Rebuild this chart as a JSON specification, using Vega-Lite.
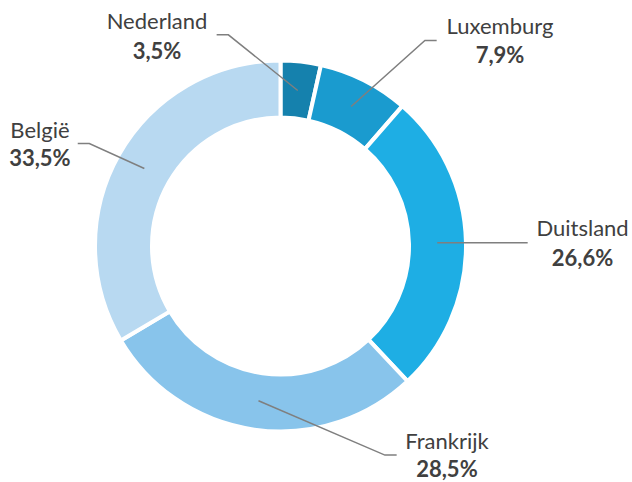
{
  "$schema": "https://vega.github.io/schema/vega-lite/v6.json",
  "width": 632,
  "height": 482,
  "padding": 0,
  "autosize": {"type": "fit", "contains": "padding"},
  "background": "white",
  "config": {"view": {"stroke": null}, "font": "Lato"},
  "datasets": {
    "shares": [
      {"country": "Nederland", "share": 3.5, "order": 1},
      {"country": "Luxemburg", "share": 7.9, "order": 2},
      {"country": "Duitsland", "share": 26.6, "order": 3},
      {"country": "Frankrijk", "share": 28.5, "order": 4},
      {"country": "België", "share": 33.5, "order": 5}
    ],
    "leaders": [
      {"country": "Nederland", "step": 1, "x": 9.4, "y": 84.9},
      {"country": "Nederland", "step": 2, "x": -28.4, "y": 115.3},
      {"country": "Nederland", "step": 3, "x": -34.8, "y": 115.3},
      {"country": "Luxemburg", "step": 1, "x": 38.5, "y": 76.2},
      {"country": "Luxemburg", "step": 2, "x": 78.7, "y": 112.2},
      {"country": "Luxemburg", "step": 3, "x": 85.1, "y": 112.2},
      {"country": "Duitsland", "step": 1, "x": 85.4, "y": 1.7},
      {"country": "Duitsland", "step": 2, "x": 134.7, "y": 1.7},
      {"country": "Frankrijk", "step": 1, "x": -12.0, "y": -84.5},
      {"country": "Frankrijk", "step": 2, "x": 56.9, "y": -114.2},
      {"country": "Frankrijk", "step": 3, "x": 63.3, "y": -114.2},
      {"country": "België", "step": 1, "x": -74.2, "y": 42.3},
      {"country": "België", "step": 2, "x": -104.2, "y": 55.9},
      {"country": "België", "step": 3, "x": -110.5, "y": 55.9}
    ],
    "labels": [
      {"country": "Nederland", "value": "3,5%", "x": -67.3, "yName": 118.4, "yValue": 102.0},
      {"country": "Luxemburg", "value": "7,9%", "x": 119.6, "yName": 115.8, "yValue": 99.8},
      {"country": "Duitsland", "value": "26,6%", "x": 164.6, "yName": 5.3, "yValue": -11.0},
      {"country": "Frankrijk", "value": "28,5%", "x": 90.7, "yName": -110.9, "yValue": -126.4},
      {"country": "België", "value": "33,5%", "x": -131.1, "yName": 59.0, "yValue": 43.5}
    ]
  },
  "layer": [
    {
      "data": {"name": "shares"},
      "mark": {"type": "arc", "innerRadius": 128.5, "outerRadius": 185.5, "stroke": "white", "strokeWidth": 4},
      "encoding": {
        "theta": {"field": "share", "type": "quantitative", "stack": true},
        "order": {"field": "order", "type": "quantitative"},
        "color": {
          "field": "country", "type": "nominal", "legend": null,
          "scale": {
            "domain": ["Nederland", "Luxemburg", "Duitsland", "Frankrijk", "België"],
            "range": ["#1581AD", "#1A9BCF", "#1EAEE4", "#88C4EB", "#B8D9F1"]
          }
        },
        "x": {"datum": 0, "type": "quantitative", "scale": {"domain": [-152.86, 191.55], "nice": false, "zero": false}, "axis": null},
        "y": {"datum": 0, "type": "quantitative", "scale": {"domain": [-128.34, 134.33], "nice": false, "zero": false}, "axis": null}
      }
    },
    {
      "data": {"name": "leaders"},
      "mark": {"type": "line", "color": "#7f7f7f", "strokeWidth": 1.5},
      "encoding": {
        "x": {"field": "x", "type": "quantitative", "scale": {"domain": [-152.86, 191.55], "nice": false, "zero": false}, "axis": null},
        "y": {"field": "y", "type": "quantitative", "scale": {"domain": [-128.34, 134.33], "nice": false, "zero": false}, "axis": null},
        "detail": {"field": "country", "type": "nominal"},
        "order": {"field": "step", "type": "quantitative"}
      }
    },
    {
      "data": {"name": "labels"},
      "mark": {"type": "text", "fontSize": 22, "color": "#404040", "align": "center", "baseline": "alphabetic"},
      "encoding": {
        "x": {"field": "x", "type": "quantitative", "scale": {"domain": [-152.86, 191.55], "nice": false, "zero": false}, "axis": null},
        "y": {"field": "yName", "type": "quantitative", "scale": {"domain": [-128.34, 134.33], "nice": false, "zero": false}, "axis": null},
        "text": {"field": "country", "type": "nominal"}
      }
    },
    {
      "data": {"name": "labels"},
      "mark": {"type": "text", "fontSize": 22, "fontWeight": "bold", "color": "#404040", "align": "center", "baseline": "alphabetic"},
      "encoding": {
        "x": {"field": "x", "type": "quantitative", "scale": {"domain": [-152.86, 191.55], "nice": false, "zero": false}, "axis": null},
        "y": {"field": "yValue", "type": "quantitative", "scale": {"domain": [-128.34, 134.33], "nice": false, "zero": false}, "axis": null},
        "text": {"field": "value", "type": "nominal"}
      }
    }
  ]
}
